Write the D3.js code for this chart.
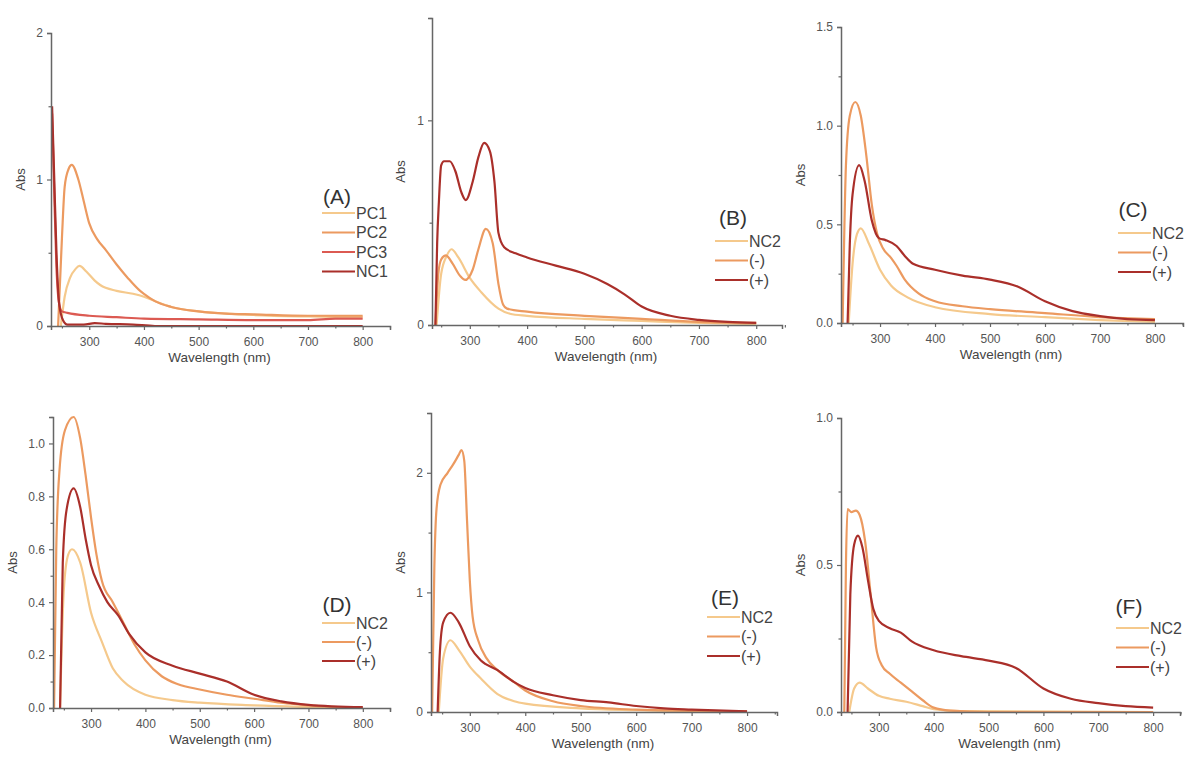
<!DOCTYPE html>
<html>
<head>
<meta charset="utf-8">
<script src="https://cdn.jsdelivr.net/npm/d3@7"></script>
<style>
  body { margin: 0; background: #fff; }
  svg { display: block; font-family: "Liberation Sans", Arial, sans-serif; }
</style>
</head>
<body>
<svg id="chart" width="1199" height="778"></svg>
<script>
// Series colours
const C_LIGHT  = "#f5c98c";
const C_ORANGE = "#ec9a60";
const C_RED    = "#dc5a52";
const C_DARK   = "#aa2f2a";

// Spectra as [wavelength nm, Abs] pairs
// (A)
const A_PC1 = [[248,0],[255,0.2],[265,0.33],[275,0.39],[282,0.41],[295,0.37],[310,0.31],[320,0.28],[350,0.24],[380,0.22],[400,0.2],[420,0.17],[450,0.13],[500,0.1],[550,0.085],[600,0.075],[700,0.065],[800,0.06]];
const A_PC2 = [[243,0],[250,0.6],[255,0.95],[262,1.07],[268,1.1],[280,1.0],[290,0.85],[300,0.7],[315,0.59],[330,0.52],[350,0.42],[370,0.33],[390,0.25],[400,0.22],[420,0.17],[450,0.13],[500,0.1],[550,0.085],[600,0.08],[700,0.07],[800,0.07]];
const A_PC3 = [[232,1.45],[236,0.9],[240,0.4],[245,0.15],[250,0.1],[260,0.09],[300,0.07],[350,0.06],[400,0.05],[500,0.045],[600,0.04],[700,0.04],[750,0.05],[800,0.05]];
const A_NC1 = [[232,1.5],[236,1.0],[240,0.5],[245,0.15],[252,0.04],[260,0.01],[290,0.01],[310,0.02],[330,0.015],[380,0.01],[420,0.0],[800,0.0]];

// (B)
const B_NC2   = [[242,0],[250,0.25],[260,0.34],[268,0.37],[280,0.33],[300,0.23],[320,0.16],[350,0.08],[370,0.055],[400,0.045],[500,0.03],[600,0.02],[700,0.01],[800,0.005]];
const B_MINUS = [[240,0],[245,0.25],[250,0.32],[258,0.34],[270,0.3],[283,0.24],[292,0.22],[305,0.27],[315,0.37],[328,0.47],[340,0.4],[350,0.2],[358,0.1],[365,0.08],[400,0.065],[500,0.045],[600,0.03],[700,0.015],[800,0.01]];
const B_PLUS  = [[240,0],[243,0.4],[246,0.6],[250,0.78],[255,0.8],[265,0.8],[275,0.75],[285,0.65],[293,0.61],[305,0.7],[315,0.82],[325,0.89],[335,0.85],[343,0.7],[350,0.45],[360,0.38],[380,0.35],[400,0.33],[450,0.29],[500,0.25],[540,0.2],[570,0.15],[600,0.09],[650,0.045],[700,0.025],[750,0.015],[800,0.01]];

// (C)
const C_NC2   = [[243,0],[250,0.3],[258,0.45],[265,0.48],[280,0.4],[300,0.27],[320,0.19],[350,0.13],[400,0.08],[500,0.045],[600,0.03],[700,0.015],[800,0.005]];
const C_MINUS = [[232,0],[238,0.8],[245,1.05],[255,1.12],[265,1.05],[275,0.85],[285,0.6],[295,0.45],[305,0.38],[320,0.33],[330,0.29],[345,0.22],[370,0.15],[400,0.11],[450,0.085],[500,0.07],[600,0.05],[700,0.03],[800,0.02]];
const C_PLUS  = [[241,0],[245,0.4],[250,0.65],[262,0.8],[272,0.72],[285,0.52],[298,0.43],[310,0.42],[330,0.39],[345,0.34],[360,0.3],[400,0.27],[450,0.24],[500,0.22],[550,0.185],[600,0.11],[650,0.06],[700,0.035],[750,0.02],[800,0.015]];

// (D)
const D_NC2   = [[243,0],[250,0.45],[258,0.58],[265,0.6],[280,0.55],[300,0.36],[320,0.25],[340,0.15],[360,0.1],[400,0.05],[450,0.03],[500,0.02],[600,0.01],[800,0.0]];
const D_MINUS = [[232,0],[236,0.6],[242,0.9],[252,1.05],[268,1.1],[280,1.02],[290,0.88],[300,0.72],[310,0.58],[320,0.48],[340,0.4],[360,0.32],[380,0.24],[400,0.18],[430,0.12],[460,0.09],[500,0.07],[550,0.05],[600,0.035],[650,0.02],[700,0.01],[800,0.0]];
const D_PLUS  = [[243,0],[248,0.55],[255,0.75],[268,0.83],[280,0.76],[290,0.64],[300,0.54],[315,0.46],[330,0.4],[350,0.35],[370,0.28],[400,0.21],[450,0.16],[500,0.13],[550,0.1],[600,0.05],[650,0.025],[700,0.012],[800,0.003]];

// (E)
const E_NC2   = [[244,0],[252,0.45],[265,0.6],[280,0.52],[300,0.38],[320,0.28],[350,0.15],[380,0.09],[400,0.07],[500,0.03],[600,0.015],[800,0.0]];
const E_MINUS = [[232,0],[236,1.2],[240,1.7],[247,1.9],[260,2.0],[270,2.07],[280,2.15],[285,2.19],[290,2.1],[295,1.6],[300,1.1],[305,0.8],[315,0.6],[330,0.45],[350,0.35],[380,0.25],[400,0.18],[450,0.09],[500,0.05],[600,0.02],[700,0.01],[800,0.005]];
const E_PLUS  = [[242,0],[246,0.5],[252,0.75],[265,0.83],[280,0.75],[300,0.55],[320,0.43],[350,0.35],[380,0.25],[400,0.2],[450,0.14],[500,0.1],[550,0.08],[600,0.05],[650,0.03],[700,0.02],[800,0.005]];

// (F)
const F_NC2   = [[246,0],[255,0.08],[265,0.1],[280,0.08],[300,0.055],[320,0.045],[350,0.035],[380,0.02],[400,0.01],[450,0.003],[800,0.0]];
const F_MINUS = [[237,0],[240,0.5],[243,0.69],[250,0.68],[258,0.685],[265,0.67],[275,0.58],[285,0.4],[295,0.22],[305,0.16],[320,0.13],[340,0.1],[360,0.07],[380,0.04],[400,0.015],[430,0.005],[500,0.0],[800,0.0]];
const F_PLUS  = [[243,0],[248,0.4],[255,0.57],[262,0.6],[270,0.56],[280,0.45],[290,0.35],[300,0.31],[320,0.285],[340,0.27],[360,0.24],[400,0.21],[450,0.19],[500,0.175],[550,0.15],[600,0.08],[650,0.045],[700,0.03],[750,0.02],[800,0.015]];

const X_TICKS = [300, 400, 500, 600, 700, 800];
const X_MINOR = [250, 350, 450, 550, 650, 750, 850];
const SAMPLE_NAMES = ["NC2", "(-)", "(+)"];

// Panel layout: plot box in pixels, axis domains and legend anchor
const panels = [
  { tag: "(A)", left: 51,  right: 390,  top: 33,  bottom: 326, wMin: 230, wMax: 850, yMax: 2,
    yTicks: [0, 1, 2], yMinor: [0.5, 1.5], fmt: d3.format("d"), absOff: 26,
    series: [["PC1", A_PC1, C_LIGHT], ["PC2", A_PC2, C_ORANGE], ["PC3", A_PC3, C_RED], ["NC1", A_NC1, C_DARK]],
    leg: { cx: 337, cy: 197, lx: 322, rowY: 213, gap: 19.5 } },
  { tag: "(B)", left: 432, right: 782,  top: 18,  bottom: 325, wMin: 234, wMax: 845, yMax: 1.5,
    yTicks: [0, 1], yMinor: [0.5, 1.5], fmt: d3.format("d"), absOff: 27,
    series: [[SAMPLE_NAMES[0], B_NC2, C_LIGHT], [SAMPLE_NAMES[1], B_MINUS, C_ORANGE], [SAMPLE_NAMES[2], B_PLUS, C_DARK]],
    leg: { cx: 733, cy: 218, lx: 715, rowY: 241, gap: 19.5 } },
  { tag: "(C)", left: 841, right: 1183, top: 27,  bottom: 323, wMin: 229, wMax: 851, yMax: 1.5,
    yTicks: [0, 0.5, 1.0, 1.5], yMinor: [0.25, 0.75, 1.25], fmt: d3.format(".1f"), absOff: 36,
    series: [[SAMPLE_NAMES[0], C_NC2, C_LIGHT], [SAMPLE_NAMES[1], C_MINUS, C_ORANGE], [SAMPLE_NAMES[2], C_PLUS, C_DARK]],
    leg: { cx: 1133, cy: 210, lx: 1118, rowY: 233, gap: 19.5 } },
  { tag: "(D)", left: 53,  right: 390,  top: 417, bottom: 708, wMin: 230, wMax: 850, yMax: 1.1,
    yTicks: [0, 0.2, 0.4, 0.6, 0.8, 1.0], yMinor: [0.1, 0.3, 0.5, 0.7, 0.9, 1.1], fmt: d3.format(".1f"), absOff: 36,
    series: [[SAMPLE_NAMES[0], D_NC2, C_LIGHT], [SAMPLE_NAMES[1], D_MINUS, C_ORANGE], [SAMPLE_NAMES[2], D_PLUS, C_DARK]],
    leg: { cx: 337, cy: 605, lx: 322, rowY: 623, gap: 19 } },
  { tag: "(E)", left: 431, right: 777,  top: 413, bottom: 712, wMin: 230, wMax: 854, yMax: 2.5,
    yTicks: [0, 1, 2], yMinor: [0.5, 1.5, 2.5], fmt: d3.format("d"), absOff: 26,
    series: [[SAMPLE_NAMES[0], E_NC2, C_LIGHT], [SAMPLE_NAMES[1], E_MINUS, C_ORANGE], [SAMPLE_NAMES[2], E_PLUS, C_DARK]],
    leg: { cx: 725, cy: 598, lx: 707, rowY: 617, gap: 19.5 } },
  { tag: "(F)", left: 841, right: 1180, top: 418, bottom: 712, wMin: 231, wMax: 849, yMax: 1.0,
    yTicks: [0, 0.5, 1.0], yMinor: [0.25, 0.75], fmt: d3.format(".1f"), absOff: 36,
    series: [[SAMPLE_NAMES[0], F_NC2, C_LIGHT], [SAMPLE_NAMES[1], F_MINUS, C_ORANGE], [SAMPLE_NAMES[2], F_PLUS, C_DARK]],
    leg: { cx: 1129, cy: 607, lx: 1116, rowY: 628, gap: 19.5 } },
];

const svg = d3.select("#chart");
const AXIS_COLOR = "#666";
const TEXT_COLOR = "#555";

panels.forEach(p => {
  const x = d3.scaleLinear().domain([p.wMin, p.wMax]).range([p.left, p.right]);
  const y = d3.scaleLinear().domain([0, p.yMax]).range([p.bottom, p.top]);
  const g = svg.append("g");

  // Curves first, axes drawn over them
  const line = d3.line()
    .x(d => x(d[0]))
    .y(d => y(d[1]))
    .curve(d3.curveMonotoneX);

  g.append("g")
    .selectAll("path")
    .data(p.series)
    .join("path")
    .attr("d", d => line(d[1]))
    .attr("fill", "none")
    .attr("stroke", d => d[2])
    .attr("stroke-width", 2.2)
    .attr("stroke-linejoin", "round");

  // x axis
  g.append("g")
    .attr("transform", `translate(0,${p.bottom})`)
    .call(d3.axisBottom(x).tickValues(X_TICKS).tickSize(4).tickPadding(7).tickFormat(d3.format("d")));
  g.append("g")
    .attr("transform", `translate(0,${p.bottom})`)
    .call(d3.axisBottom(x).tickValues(X_MINOR).tickSize(2.5).tickFormat(""))
    .call(a => a.select(".domain").remove());

  // y axis
  g.append("g")
    .attr("transform", `translate(${p.left},0)`)
    .call(d3.axisLeft(y).tickValues(p.yTicks).tickSize(4).tickPadding(4).tickFormat(p.fmt));
  g.append("g")
    .attr("transform", `translate(${p.left},0)`)
    .call(d3.axisLeft(y).tickValues(p.yMinor).tickSize(2.5).tickFormat(""))
    .call(a => a.select(".domain").remove());

  g.selectAll(".domain").attr("stroke", AXIS_COLOR).attr("stroke-width", 1.5);
  g.selectAll(".tick line").attr("stroke", AXIS_COLOR).attr("stroke-width", 1.2);
  g.selectAll(".tick text").attr("fill", TEXT_COLOR).attr("font-size", "12px")
    .attr("font-family", "Liberation Sans, Arial, sans-serif");

  // axis titles
  g.append("text")
    .attr("x", (p.left + p.right) / 2 - 1)
    .attr("y", p.bottom + 36)
    .attr("text-anchor", "middle")
    .attr("fill", "#444")
    .attr("font-size", "13.5px")
    .text("Wavelength (nm)");

  g.append("text")
    .attr("transform", `translate(${p.left - p.absOff},${(p.top + p.bottom) / 2}) rotate(-90)`)
    .attr("text-anchor", "middle")
    .attr("fill", "#444")
    .attr("font-size", "13px")
    .text("Abs");

  // legend
  const L = p.leg;
  g.append("text")
    .attr("x", L.cx)
    .attr("y", L.cy + 7)
    .attr("text-anchor", "middle")
    .attr("fill", "#333")
    .attr("font-size", "21px")
    .text(p.tag);

  const rows = g.append("g")
    .selectAll("g")
    .data(p.series)
    .join("g")
    .attr("transform", (d, i) => `translate(${L.lx},${L.rowY + i * L.gap})`);
  rows.append("line")
    .attr("x1", 0).attr("x2", 33)
    .attr("stroke", d => d[2])
    .attr("stroke-width", 2.2);
  rows.append("text")
    .attr("x", 34)
    .attr("y", 5.5)
    .attr("fill", "#444")
    .attr("font-size", "16px")
    .text(d => d[0]);
});
</script>
</body>
</html>
